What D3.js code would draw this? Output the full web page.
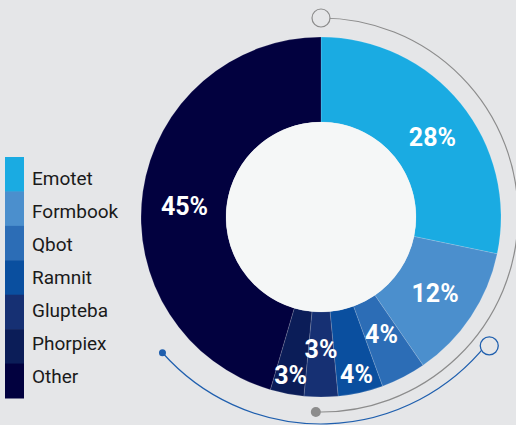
<!DOCTYPE html>
<html>
<head>
<meta charset="utf-8">
<script src="https://cdn.jsdelivr.net/npm/d3@7"></script>
<style>
  html, body { margin: 0; padding: 0; background: #e5e6e8; }
  svg { display: block; }
</style>
</head>
<body>
<div id="chart"></div>
<script>
// data
var categories = ["Emotet", "Formbook", "Qbot", "Ramnit", "Glupteba", "Phorpiex", "Other"];
var values = [28, 12, 4, 4, 3, 3, 45];

var colors = ["#1aabe2", "#4b8fcd", "#2c6db6", "#0a4f9f", "#163073", "#0b1d58", "#02013f"];

var w = 516, h = 425;
var cx = 321, cy = 217;
var rOuter = 180, rInner = 95;

var svg = d3.select("#chart")
    .append("svg")
    .attr("width", w)
    .attr("height", h);

svg.append("rect")
    .attr("width", w)
    .attr("height", h)
    .attr("fill", "#e5e6e8");

var toRad = Math.PI / 180;

// decorative gray ring
var grayArc = d3.arc()
    .innerRadius(197)
    .outerRadius(197)
    .startAngle(0)
    .endAngle(181.5 * toRad);

var deco = svg.append("g").attr("transform", "translate(" + cx + "," + (cy - 2) + ")");
deco.append("path")
    .attr("d", grayArc())
    .attr("fill", "none")
    .attr("stroke", "#8c8c8c")
    .attr("stroke-width", 1.2);
deco.append("circle")
    .attr("cx", 0).attr("cy", -197)
    .attr("r", 9)
    .attr("fill", "#e5e6e8")
    .attr("stroke", "#8c8c8c")
    .attr("stroke-width", 1.2);
deco.append("circle")
    .attr("cx", 197 * Math.sin(181.5 * toRad))
    .attr("cy", -197 * Math.cos(181.5 * toRad))
    .attr("r", 5)
    .attr("fill", "#8c8c8c");

// decorative blue ring
var blueR = 212, blueStart = 128.5, blueEnd = 228.4;
var blueArc = d3.arc()
    .innerRadius(blueR)
    .outerRadius(blueR)
    .startAngle(blueStart * toRad)
    .endAngle(blueEnd * toRad);

var deco2 = svg.append("g").attr("transform", "translate(" + cx + "," + (cy - 5) + ")");
deco2.append("path")
    .attr("d", blueArc())
    .attr("fill", "none")
    .attr("stroke", "#1f5fae")
    .attr("stroke-width", 1.2);
deco2.append("circle")
    .attr("cx", (blueR + 3) * Math.sin(blueStart * toRad))
    .attr("cy", -(blueR + 3) * Math.cos(blueStart * toRad))
    .attr("r", 9)
    .attr("fill", "#e5e6e8")
    .attr("stroke", "#1f5fae")
    .attr("stroke-width", 1.3);
deco2.append("circle")
    .attr("cx", blueR * Math.sin(blueEnd * toRad))
    .attr("cy", -blueR * Math.cos(blueEnd * toRad))
    .attr("r", 3.5)
    .attr("fill", "#1f5fae");

// donut
var pie = d3.pie()
    .sort(null)
    .value(function (d) { return d; });

var arc = d3.arc()
    .innerRadius(rInner)
    .outerRadius(rOuter);

var arcs = pie(values);

var g = svg.append("g").attr("transform", "translate(" + cx + "," + cy + ")");

g.selectAll("path.slice")
    .data(arcs)
    .enter()
    .append("path")
    .attr("class", "slice")
    .attr("d", arc)
    .attr("fill", function (d, i) { return colors[i]; })
    .attr("stroke", "rgba(255,255,255,0.25)")
    .attr("stroke-width", 0.6);

g.append("circle")
    .attr("r", rInner)
    .attr("fill", "#f5f7f7");

// labels, small slices staggered in/out
function labelRadius(d, i) {
    if (d.data >= 5) return 137;
    return (i % 2 === 1) ? 161 : 132;
}
// big slices: label nudged a few degrees towards the horizontal
function labelAngle(d) {
    var a = (d.startAngle + d.endAngle) / 2;
    if (d.data >= 20) {
        var target = a < Math.PI ? Math.PI / 2 : 3 * Math.PI / 2;
        var step = Math.min(3.5 * toRad, Math.abs(target - a));
        a = a + (target > a ? step : -step);
    }
    return a;
}

g.selectAll("text.val")
    .data(arcs)
    .enter()
    .append("text")
    .attr("class", "val")
    .text(function (d) { return d.data + "%"; })
    .attr("text-anchor", "middle")
    .attr("dy", "0.36em")
    .attr("x", function (d, i) {
        return labelRadius(d, i) * Math.sin(labelAngle(d));
    })
    .attr("y", function (d, i) {
        return -labelRadius(d, i) * Math.cos(labelAngle(d));
    })
    .attr("font-family", "Roboto, sans-serif")
    .attr("font-weight", "bold")
    .attr("font-size", "25px")
    .attr("fill", "#ffffff");

// legend
var legY = d3.scaleBand()
    .domain(categories)
    .range([157, 398]);

var legText = d3.scalePoint()
    .domain(categories)
    .range([178, 376]);

var leg = svg.append("g");
leg.selectAll("rect")
    .data(categories)
    .enter()
    .append("rect")
    .attr("x", 5)
    .attr("y", function (d) { return legY(d); })
    .attr("width", 19)
    .attr("height", legY.bandwidth() + 0.5)
    .attr("fill", function (d, i) { return colors[i]; });

leg.selectAll("text")
    .data(categories)
    .enter()
    .append("text")
    .text(function (d) { return d; })
    .attr("x", 32)
    .attr("y", function (d) { return legText(d); })
    .attr("dy", "0.36em")
    .attr("font-family", "Roboto, sans-serif")
    .attr("font-size", "19px")
    .attr("fill", "#1a1a1a");
</script>
</body>
</html>
